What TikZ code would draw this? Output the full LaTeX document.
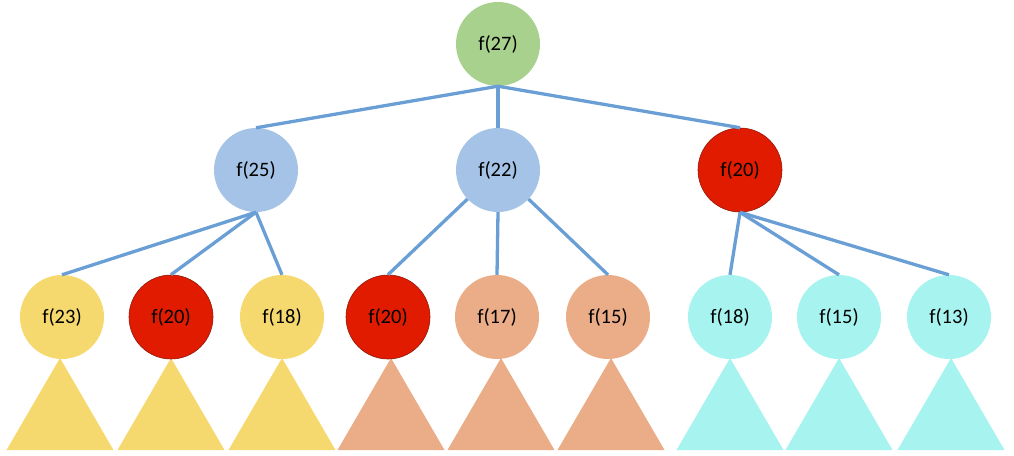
\documentclass[tikz,border=0pt]{standalone}
\usepackage{fontspec}
\setmainfont{Carlito}
\definecolor{rootgreen}{HTML}{A9D18E}
\definecolor{midblue}{HTML}{A4C3E6}
\definecolor{hotred}{HTML}{E01B00}
\definecolor{rededge}{HTML}{8E1A0A}
\definecolor{sunyellow}{HTML}{F6D96E}
\definecolor{salmon}{HTML}{EBAC88}
\definecolor{aqua}{HTML}{A7F3F0}
\definecolor{linkblue}{HTML}{6A9FD6}
\tikzset{
  call/.style={circle, minimum size=84pt, inner sep=0pt,
    font=\fontsize{20.5}{23}\selectfont},
  rootcall/.style={call, fill=rootgreen},
  midcall/.style={call, fill=midblue},
  repeatcall/.style={call, fill=hotred, draw=rededge, line width=0.6pt},
  yellowcall/.style={call, fill=sunyellow},
  salmoncall/.style={call, fill=salmon},
  aquacall/.style={call, fill=aqua},
  link/.style={draw=linkblue, line width=3.3pt},
}
\begin{document}
\begin{tikzpicture}[x=1pt, y=-1pt]
\useasboundingbox (0,0) rectangle (1014,455);

% subtrees hanging under the bottom row
\foreach \cx/\col in {60/sunyellow, 171/sunyellow, 282/sunyellow,
                      391/salmon, 501/salmon, 611/salmon,
                      730/aqua, 839/aqua, 951/aqua}
  \fill[\col] (\cx,358) -- (\cx+53.5,450) -- (\cx-53.5,450) -- cycle;

% call tree
\node[rootcall] (r) at (498,44) {f(27)};

\node[midcall]    (a) at (256,170) {f(25)};
\node[midcall]    (b) at (498,170) {f(22)};
\node[repeatcall] (c) at (740,170) {f(20)};

\node[yellowcall] (a1) at (62,317)  {f(23)};
\node[repeatcall] (a2) at (171,317) {f(20)};
\node[yellowcall] (a3) at (282,317) {f(18)};
\node[repeatcall] (b1) at (388,317) {f(20)};
\node[salmoncall] (b2) at (497,317) {f(17)};
\node[salmoncall] (b3) at (608,317) {f(15)};
\node[aquacall]   (c1) at (730,317) {f(18)};
\node[aquacall]   (c2) at (839,317) {f(15)};
\node[aquacall]   (c3) at (949,317) {f(13)};

% connectors
\draw[link] (r.south) -- (a.north);
\draw[link] (r.south) -- (b.north);
\draw[link] (r.south) -- (c.north);

\draw[link] (a.south) -- (a1.north);
\draw[link] (a.south) -- (a2.north);
\draw[link] (a.south) -- (a3.north);

\draw[link] (b) -- (b1.north);
\draw[link] (b.south) -- (b2.north);
\draw[link] (b) -- (b3.north);

\draw[link] (c.south) -- (c1.north);
\draw[link] (c.south) -- (c2.north);
\draw[link] (c.south) -- (c3.north);
\end{tikzpicture}
\end{document}
